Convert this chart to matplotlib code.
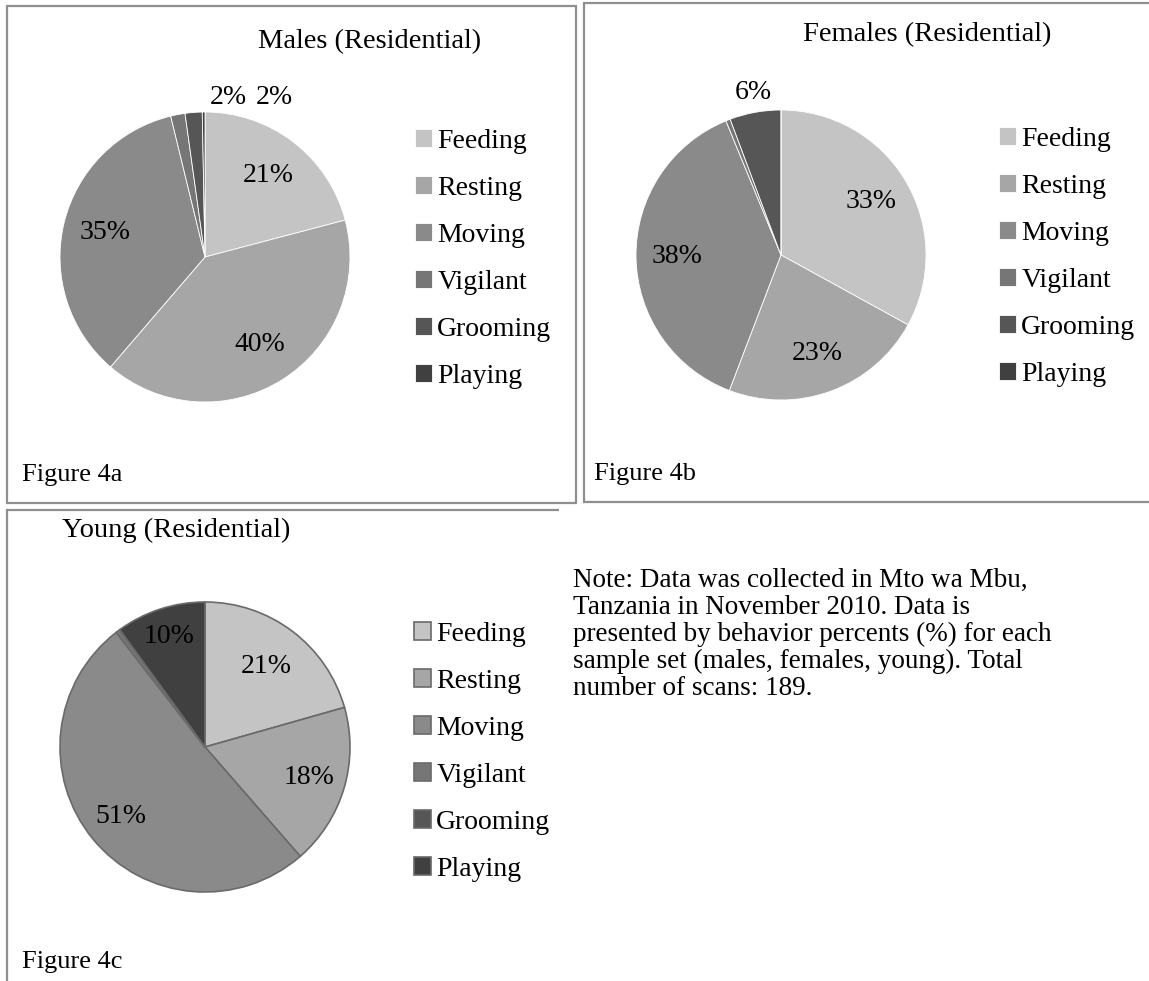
import numpy as np
import matplotlib
matplotlib.use("Agg")
import matplotlib.pyplot as plt
from matplotlib.lines import Line2D

W, H = 1149, 981
FONT = "Liberation Serif"
plt.rcParams['font.family'] = [FONT, 'DejaVu Serif']

categories = ["Feeding", "Resting", "Moving", "Vigilant", "Grooming", "Playing"]
colors = ["#c4c4c4", "#a6a6a6", "#8a8a8a", "#767676", "#565656", "#404040"]

males = [20.9, 40.4, 34.9, 1.6, 1.9, 0.3]
males_labels = ["21%", "40%", "35%", "2%", "2%", ""]
females = [33.0, 22.8, 38.0, 0.5, 5.7, 0.0]
females_labels = ["33%", "23%", "38%", "", "6%", ""]
young = [20.6, 18.0, 50.9, 0.5, 0.0, 10.0]
young_labels = ["21%", "18%", "51%", "", "", "10%"]

titles = ["Males (Residential)", "Females (Residential)", "Young (Residential)"]
fig_labels = ["Figure 4a", "Figure 4b", "Figure 4c"]
note_lines = ["Note: Data was collected in Mto wa Mbu,",
              "Tanzania in November 2010. Data is",
              "presented by behavior percents (%) for each",
              "sample set (males, females, young). Total",
              "number of scans: 189."]

fig = plt.figure(figsize=(W / 100, H / 100), dpi=100)


def fx(x):
    return x / W


def fy(y):
    return 1 - y / H


def pie_panel(values, labels, cx, cy, r, edge, lw, inner_r, outside, legend_xy):
    ax = fig.add_axes([fx(cx - r), fy(cy + r), 2 * r / W, 2 * r / H])
    wedges, _ = ax.pie(values, colors=colors, startangle=90, counterclock=False,
                       radius=1, wedgeprops=dict(edgecolor=edge, linewidth=lw))
    ax.set_xlim(-1, 1)
    ax.set_ylim(-1, 1)
    ax.set_aspect('equal')
    ax.axis('off')
    for i, (w, lab) in enumerate(zip(wedges, labels)):
        if not lab:
            continue
        if i in outside:
            x, y = outside[i]
        else:
            ang = np.deg2rad((w.theta1 + w.theta2) / 2)
            if isinstance(inner_r, dict):
                rr = inner_r.get(i, 0.72)
            else:
                rr = inner_r
            x, y = rr * np.cos(ang), rr * np.sin(ang)
        ax.text(x, y, lab, ha='center', va='center', fontsize=20, color='black', clip_on=False)
    fig.legend(wedges, categories, loc='upper left',
               bbox_to_anchor=(fx(legend_xy[0]), fy(legend_xy[1])),
               frameon=False, fontsize=20, handlelength=0.6, handleheight=0.6,
               handletextpad=0.2, labelspacing=0.79, borderpad=0, borderaxespad=0)
    return ax


# Panel a
pie_panel(males, males_labels, 205, 257, 145, "white", 0.6, 0.71,
          {3: (0.16, 1.10), 4: (0.48, 1.10)}, (415, 129))
# Panel b
pie_panel(females, females_labels, 781, 255, 145, "white", 0.6, 0.72,
          {4: (-0.19, 1.12)}, (999, 127))
# Panel c
pie_panel(young, young_labels, 205, 747, 145, "#6a6a6a", 1.2,
          {0: 0.70, 1: 0.75, 2: 0.75, 5: 0.80},
          {}, (414, 622))

# Titles
fig.text(fx(370), fy(42), titles[0], ha='center', va='center', fontsize=20.5)
fig.text(fx(927), fy(35), titles[1], ha='center', va='center', fontsize=20.5)
fig.text(fx(176), fy(530), titles[2], ha='center', va='center', fontsize=20.5)

# Figure labels
fig.text(fx(22), fy(475), fig_labels[0], ha='left', va='center', fontsize=19)
fig.text(fx(594), fy(474), fig_labels[1], ha='left', va='center', fontsize=19)
fig.text(fx(22), fy(962), fig_labels[2], ha='left', va='center', fontsize=19)

# Note
for i, line in enumerate(note_lines):
    fig.text(fx(573), fy(587 + 27 * i), line, ha='left', va='baseline', fontsize=19.5)

# Borders
bc = "#8f8f8f"
blw = 1.6


def seg(x0, y0, x1, y1):
    fig.add_artist(Line2D([fx(x0), fx(x1)], [fy(y0), fy(y1)], color=bc, lw=blw,
                          solid_capstyle='butt'))


# box a
seg(6, 6, 577, 6); seg(7, 6, 7, 503); seg(6, 503, 577, 503); seg(576, 6, 576, 503)
# box b
seg(583, 3, 1149, 3); seg(584, 3, 584, 502); seg(583, 502, 1149, 502)
# box c
seg(6, 510, 559, 510); seg(7, 510, 7, 981)

fig.savefig("out.png", dpi=100)
